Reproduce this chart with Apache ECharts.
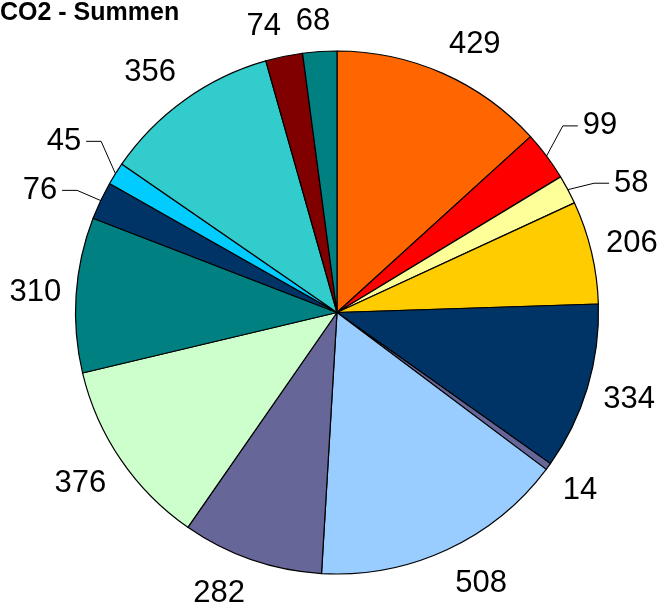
<!DOCTYPE html>
<html>
<head>
<meta charset="utf-8">
<script src="https://cdn.jsdelivr.net/npm/echarts@6/dist/echarts.min.js"></script>
<style>
  html, body { margin: 0; padding: 0; background: #fff; }
  #chart { width: 662px; height: 610px; }
</style>
</head>
<body>
<div id="chart"></div>
<script>
// CO2 - Summen, Werte im Uhrzeigersinn ab 12 Uhr
var values = [429, 99, 58, 206, 334, 14, 508, 282, 376, 310, 76, 45, 356, 74, 68]
var colors = ['#FF6600', '#FF0000', '#FFFF99', '#FFCC00', '#003366', '#666699', '#99CCFF',
  '#666699', '#CCFFCC', '#008080', '#003366', '#00CCFF', '#33CCCC', '#800000', '#008080']

var cx = 337
var cy = 312.5
var R = 261.5

// Beschriftungen mit Führungslinie: Index -> Winkelkorrektur in Grad
var lineNudge = { 1: 1.4, 2: 4.3, 10: -3, 11: 0 }

var total = values.reduce(function (a, b) { return a + b }, 0)
var midAngles = []
var acc = 0
values.forEach(function (v) {
  midAngles.push((acc + v / 2) / total * 2 * Math.PI)
  acc += v
})

function clamp(v) { return Math.max(-1, Math.min(1, v)) }

// kleinster Abstand eines Rechtecks zum Mittelpunkt
function nearest(x, y, w, h) {
  var nx = Math.max(x - w / 2, Math.min(cx, x + w / 2))
  var ny = Math.max(y - h / 2, Math.min(cy, y + h / 2))
  return Math.sqrt((nx - cx) * (nx - cx) + (ny - cy) * (ny - cy))
}

function placeLabel(params) {
  var i = params.dataIndex
  var w = params.labelRect.width
  var h = params.labelRect.height
  var a = midAngles[i]
  var s, c, x, y
  if (lineNudge[i] === undefined) {
    // Ankerpunkt knapp außerhalb des Kreises, Text je nach Lage angesetzt
    s = Math.sin(a)
    c = Math.cos(a)
    var g = 15 + 5 * Math.max(0, -c)
    x = cx + (R + g) * s + w / 2 * clamp(5 * s)
    y = cy - (R + g) * c - h / 2 * clamp(1.5 * c)
    return { x: x, y: y, align: 'center', verticalAlign: 'middle' }
  }
  var b = a + lineNudge[i] * Math.PI / 180
  s = Math.sin(b)
  c = -Math.cos(b)
  var target = R + 38
  var d = target
  for (var k = 0; k < 20; k++) {
    d += target - nearest(cx + d * s, cy + d * c, w, h)
  }
  x = cx + d * s
  y = cy + d * c
  var side = s >= 0 ? 1 : -1
  var edgeX = x - side * w / 2
  return {
    x: x,
    y: y,
    align: 'center',
    verticalAlign: 'middle',
    labelLinePoints: [
      [cx + R * Math.sin(a), cy - R * Math.cos(a)],
      [edgeX - side * 20, y],
      [edgeX - side * 5, y]
    ]
  }
}

var chart = echarts.init(document.getElementById('chart'))
chart.setOption({
  animation: false,
  title: {
    text: 'CO2 - Summen',
    left: 0,
    top: 1,
    padding: 0,
    textStyle: {
      fontFamily: 'Liberation Sans',
      fontWeight: 'bold',
      fontSize: 25,
      color: '#000'
    }
  },
  series: [
    {
      type: 'pie',
      center: [cx, cy],
      radius: [0, R],
      startAngle: 90,
      clockwise: true,
      avoidLabelOverlap: false,
      itemStyle: {
        borderColor: '#000',
        borderWidth: 1.2
      },
      label: {
        show: true,
        position: 'outside',
        formatter: '{c}',
        overflow: 'none',
        fontFamily: 'Liberation Sans',
        fontSize: 31,
        color: '#000'
      },
      labelLine: {
        show: true,
        length: 10,
        length2: 10,
        lineStyle: { color: '#000', width: 1 }
      },
      labelLayout: placeLabel,
      emphasis: { disabled: true },
      data: values.map(function (v, i) {
        return {
          value: v,
          itemStyle: { color: colors[i] },
          labelLine: { show: lineNudge[i] !== undefined }
        }
      })
    }
  ]
})
</script>
</body>
</html>
